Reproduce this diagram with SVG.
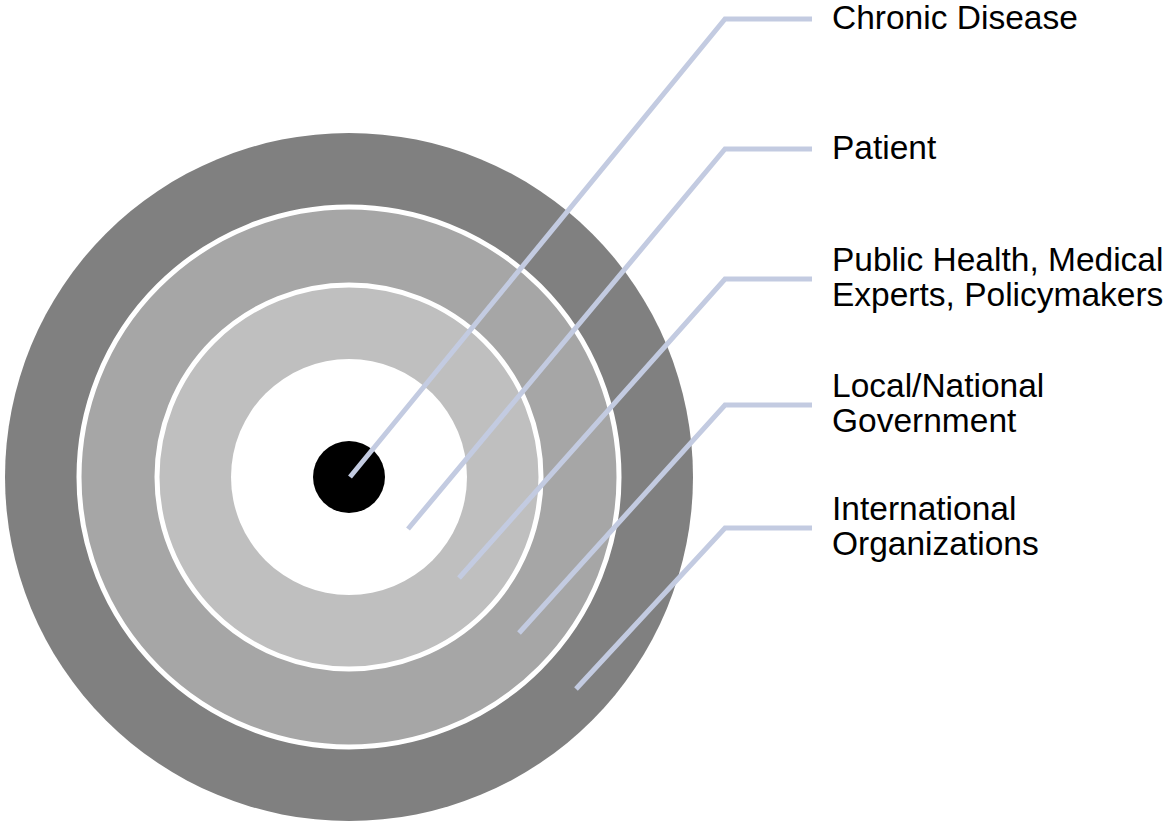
<svg xmlns="http://www.w3.org/2000/svg" width="1173" height="827" viewBox="0 0 1173 827">
<style>
.lbl{font-family:"Liberation Sans",Arial,sans-serif;font-size:33.5px;fill:#000}
.conn{fill:none;stroke:#c3cbe1;stroke-width:5;stroke-linejoin:miter}
.ring{stroke:#fff;stroke-width:5}
</style>
<rect width="1173" height="827" fill="#fff"/>
<g id="international-ring"><circle cx="349" cy="477" r="344" fill="#808080"/></g>
<g id="government-ring"><circle cx="349" cy="477" r="270" fill="#a6a6a6" class="ring"/></g>
<g id="public-health-ring"><circle cx="349" cy="477" r="192" fill="#bfbfbf" class="ring"/></g>
<g id="patient-ring"><circle cx="349" cy="477" r="118" fill="#fff"/></g>
<g id="chronic-disease-core"><circle cx="349" cy="477" r="36" fill="#000"/></g>
<g id="connectors">
<polyline class="conn" points="350,477 725,19 812,19"/>
<polyline class="conn" points="408,529 725,149 812,149"/>
<polyline class="conn" points="459,578 725,279 812,279"/>
<polyline class="conn" points="519,633 725,405 812,405"/>
<polyline class="conn" points="576,689 725,528 812,528"/>
</g>
<g id="labels">
<text class="lbl" x="832" y="29">Chronic Disease</text>
<text class="lbl" x="832" y="159">Patient</text>
<text class="lbl" x="832" y="271">Public Health, Medical</text>
<text class="lbl" x="832" y="306">Experts, Policymakers</text>
<text class="lbl" x="832" y="397">Local/National</text>
<text class="lbl" x="832" y="432">Government</text>
<text class="lbl" x="832" y="520">International</text>
<text class="lbl" x="832" y="555">Organizations</text>
</g>
</svg>
